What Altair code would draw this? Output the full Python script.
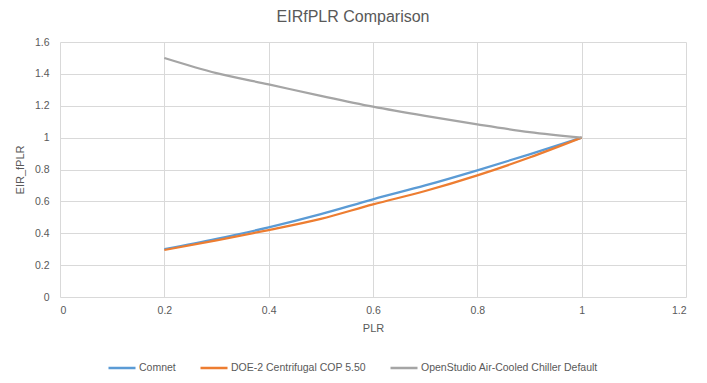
import altair as alt
import pandas as pd

plr = [0.2, 0.3, 0.4, 0.5, 0.6, 0.7, 0.8, 0.9, 1.0]
comnet = [0.30, 0.365, 0.437, 0.52, 0.613, 0.70, 0.795, 0.895, 1.0]
doe2 = [0.295, 0.355, 0.42, 0.49, 0.581, 0.665, 0.763, 0.875, 1.0]
openstudio = [1.50, 1.405, 1.334, 1.262, 1.194, 1.136, 1.083, 1.035, 1.0]
series = ["Comnet", "DOE-2 Centrifugal COP 5.50", "OpenStudio Air-Cooled Chiller Default"]
colors = ["#5B9BD5", "#ED7D31", "#A5A5A5"]
x_ticks = [0, 0.2, 0.4, 0.6, 0.8, 1.0, 1.2]
y_ticks = [0, 0.2, 0.4, 0.6, 0.8, 1.0, 1.2, 1.4, 1.6]

rows = []
for name, vals in zip(series, [comnet, doe2, openstudio]):
    for i, (p, v) in enumerate(zip(plr, vals)):
        rows.append({"series": name, "PLR": p, "EIR": v, "order": i})
df = pd.DataFrame(rows)

FONT = "Liberation Sans"
TXT = "#595959"
GRID = "#D9D9D9"

chart = alt.Chart(df).mark_line(strokeWidth=2.25, interpolate="monotone").encode(
    x=alt.X("PLR:Q", title="PLR",
            scale=alt.Scale(domain=[0, 1.2], nice=False, zero=False),
            axis=alt.Axis(values=x_ticks, format="~g", grid=True, gridColor=GRID,
                          domain=False, ticks=False, labelPadding=8, titlePadding=7,
                          labelFontSize=10.5, titleFontSize=11, labelColor=TXT,
                          titleColor=TXT, titleFontWeight="normal",
                          labelFont=FONT, titleFont=FONT)),
    y=alt.Y("EIR:Q", title="EIR_fPLR",
            scale=alt.Scale(domain=[0, 1.6], nice=False),
            axis=alt.Axis(values=y_ticks, format="~g", grid=True, gridColor=GRID,
                          domain=False, ticks=False, labelPadding=11, titlePadding=9,
                          labelFontSize=10.5, titleFontSize=11, labelColor=TXT,
                          titleColor=TXT, titleFontWeight="normal",
                          labelFont=FONT, titleFont=FONT)),
    color=alt.Color("series:N", sort=series,
                    scale=alt.Scale(domain=series, range=colors),
                    legend=alt.Legend(title=None, orient="none", direction="horizontal",
                                      legendX=47, legendY=320, clipHeight=12,
                                      symbolType="stroke", symbolSize=729,
                                      symbolStrokeWidth=2.5, columnPadding=23,
                                      labelFontSize=10.5, labelColor=TXT, labelFont=FONT,
                                      labelLimit=400, labelOffset=2, symbolOffset=0)),
    order="order:Q",
).properties(
    width=626, height=255,
    autosize=alt.AutoSizeParams(type="none"),
    padding={"left": 52, "top": 34, "right": 12, "bottom": 76},
    title=alt.TitleParams("EIRfPLR Comparison", fontSize=16, color=TXT, font=FONT,
                          fontWeight="normal", anchor="middle", dx=-20, offset=12),
).configure_view(stroke=None)

chart.save("out.html", embed_options={"renderer": "svg", "actions": False})
